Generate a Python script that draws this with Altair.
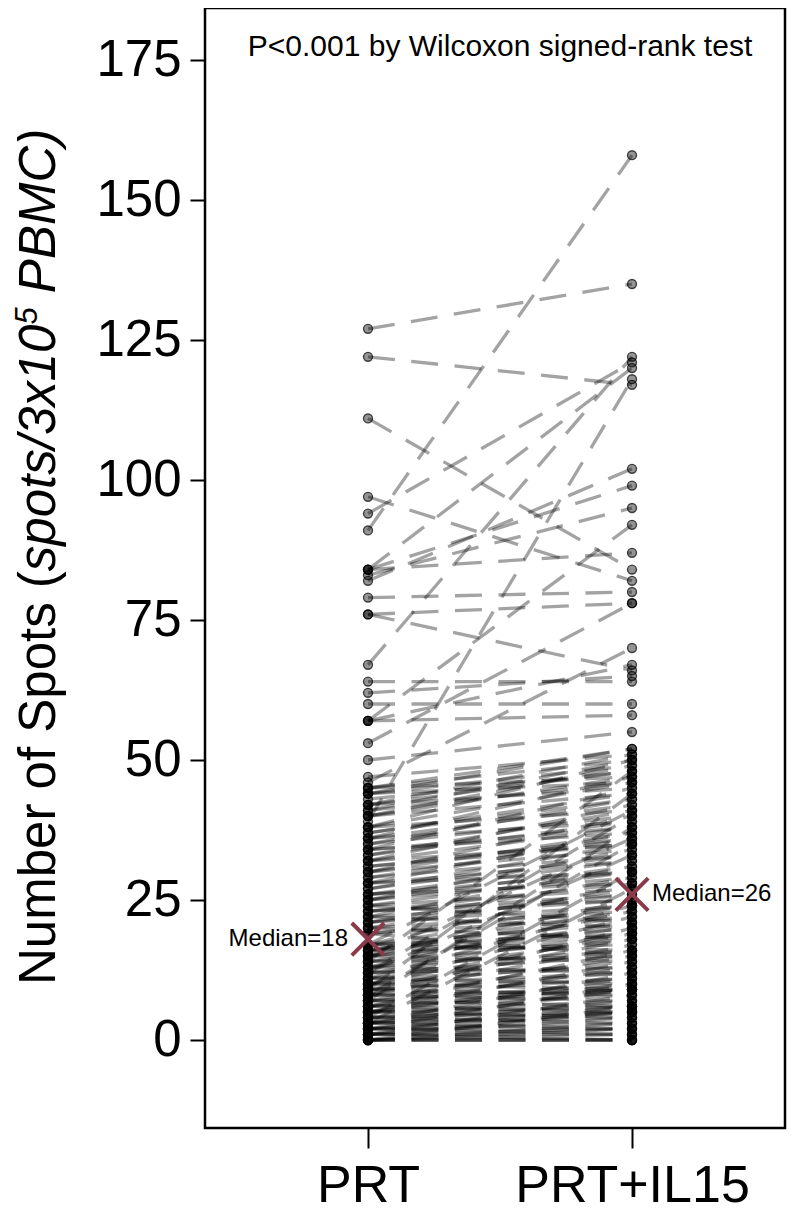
import altair as alt
import pandas as pd

# ---------------- data ----------------
groups = ["PRT", "PRT+IL15"]
group_pos = [1, 2]

prt = [
    0, 0, 0, 0, 0,
    1, 1, 1, 1,
    2, 2, 2, 2,
    3, 3, 3, 3,
    4, 4, 4, 4,
    5, 5, 5, 5,
    6, 6, 6, 6,
    7, 7, 7, 7,
    8, 8, 8, 8,
    9, 9, 9, 9,
    10, 10, 10, 10,
    11, 11, 11,
    12, 12, 12,
    13, 13, 13,
    14, 14, 14,
    15, 15, 15, 15,
    16, 16, 16,
    17, 17, 17, 17, 17, 17,
    19, 19, 20, 20, 21, 21, 22, 22, 23, 23, 24, 24, 25, 25, 26, 26,
    27, 28, 28, 29, 30, 30, 31, 32, 32, 33, 34, 34, 35, 36, 36, 37,
    38, 38, 39, 40, 40, 41, 42, 42, 43, 44, 44, 45, 45, 46, 47,
    127, 122, 111, 97, 94, 91, 84, 84, 84, 83, 82, 79, 76, 76,
    67, 64, 62, 60, 57, 57, 57, 53, 50,
    0, 0, 1, 1, 2, 2, 3, 3, 4, 5, 5, 6, 7, 8, 9, 10, 11, 12, 13, 14,
    15, 16, 3, 8, 12,
    19, 20, 22, 24, 21, 23, 25, 26, 27, 28, 29, 30, 31, 32, 33, 34,
    35, 36, 37, 38, 40, 41, 42, 44, 45,
]

il15 = [
    0, 0, 1, 3, 6,
    0, 2, 4, 8,
    1, 3, 5, 10,
    2, 5, 7, 12,
    3, 6, 9, 30,
    4, 7, 11, 14,
    5, 9, 13, 16,
    6, 10, 15, 38,
    7, 11, 17, 20,
    8, 12, 18, 44,
    9, 14, 19, 22,
    10, 16, 24,
    13, 18, 33,
    12, 19, 23,
    15, 21, 48,
    14, 20, 25, 36,
    17, 22, 23,
    16, 19, 21, 24, 28, 41,
    15, 22, 18, 27, 24, 26, 20, 31, 25, 26, 21, 30, 29, 34, 28, 32,
    35, 30, 37, 33, 34, 40, 36, 35, 42, 39, 38, 45, 40, 39, 47, 43,
    41, 50, 118, 44, 49, 46, 45, 51, 48, 46, 52, 50, 47, 70, 51,
    135, 117, 84, 82, 121, 158, 87, 120, 99, 95, 102, 80, 78, 66,
    122, 64, 65, 60, 92, 58, 67, 78, 55,
    0, 2, 1, 5, 2, 6, 4, 9, 5, 6, 10, 8, 9, 9, 11, 12, 13, 15, 16, 18,
    19, 20, 27, 35, 40,
    24, 23, 25, 27, 29, 28, 31, 30, 33, 32, 36, 37, 35, 38, 41, 37,
    43, 42, 44, 46, 47, 50, 48, 49, 52,
]

medians = [18, 26]
median_labels = ["Median=18", "Median=26"]
y_ticks = [0, 25, 50, 75, 100, 125, 150, 175]
annotation = "P<0.001 by Wilcoxon signed-rank test"
title_normal = "Number of Spots ("
title_italic1 = "spots/3x10"
title_sup = "5"
title_italic2 = "PBMC)"

# ---------------- tables ----------------
rows = []
for i, (a, b) in enumerate(zip(prt, il15)):
    rows.append({"id": i, "pos": group_pos[0], "value": a})
    rows.append({"id": i, "pos": group_pos[1], "value": b})
df = pd.DataFrame(rows)

med_df = pd.DataFrame({"pos": group_pos, "value": medians, "label": median_labels})

FONT = "Liberation Sans"
W, H = 580, 1120
xs = alt.Scale(domain=[0.3826, 2.5795], nice=False, zero=False)
ys = alt.Scale(domain=[-15.714, 184.286], nice=False, zero=False)

label_expr = f"datum.value == {group_pos[0]} ? '{groups[0]}' : '{groups[1]}'"

x_enc = alt.X("pos:Q", scale=xs, title=None,
              axis=alt.Axis(values=group_pos, labelExpr=label_expr, grid=False,
                            domain=False, tickSize=20, tickWidth=2, tickColor="black",
                            labelFontSize=52, labelPadding=12, labelColor="black",
                            labelFont=FONT, labelFlush=False, labelLimit=0,
                            labelOverlap=False))
y_enc = alt.Y("value:Q", scale=ys, title=None,
              axis=alt.Axis(values=y_ticks, grid=False, domain=False, tickSize=15,
                            tickWidth=2, tickColor="black", labelFontSize=51,
                            labelPadding=9, labelColor="black", labelFont=FONT,
                            labelLimit=0))

lines = alt.Chart(df).mark_line(
    strokeDash=[27, 16.5], strokeWidth=3.3, color="black", opacity=0.36
).encode(x=x_enc, y=y_enc, detail="id:N")

points = alt.Chart(df).mark_circle(
    size=80, color="black", stroke="black", strokeWidth=1.4,
    fillOpacity=0.42, strokeOpacity=0.7
).encode(x=alt.X("pos:Q", scale=xs), y=alt.Y("value:Q", scale=ys))

med_marks = alt.Chart(med_df).mark_point(
    shape="M-1,-1L1,1M1,-1L-1,1", size=1050, strokeWidth=4, color="#8B3A4A",
    filled=False, opacity=1
).encode(x=alt.X("pos:Q", scale=xs), y=alt.Y("value:Q", scale=ys))

med_text_left = alt.Chart(med_df.iloc[[0]]).mark_text(
    align="right", baseline="middle", dx=-20, fontSize=24, font=FONT, color="black"
).encode(x=alt.X("pos:Q", scale=xs), y=alt.Y("value:Q", scale=ys), text="label:N")

med_text_right = alt.Chart(med_df.iloc[[1]]).mark_text(
    align="left", baseline="middle", dx=20, fontSize=24, font=FONT, color="black"
).encode(x=alt.X("pos:Q", scale=xs), y=alt.Y("value:Q", scale=ys), text="label:N")

ann = alt.Chart(pd.DataFrame({"t": [annotation]})).mark_text(
    align="center", baseline="alphabetic", fontSize=30, font=FONT, color="black"
).encode(x=alt.value(295), y=alt.value(48), text="t:N")

# rotated y-axis title in pieces (normal / italic / superscript)
TF = 51
tx = -150
y1 = 977
y2 = y1 - 8114 * TF / 1000
y3 = y2 - 4836 * TF / 1000
y4 = y3 - 556 * 31 / 1000 - 278 * TF / 1000


def title_piece(text, y, x, size, style):
    return alt.Chart(pd.DataFrame({"t": [text]})).mark_text(
        angle=270, align="left", baseline="alphabetic", fontSize=size,
        font=FONT, fontStyle=style, color="black"
    ).encode(x=alt.value(x), y=alt.value(y), text="t:N")


t1 = title_piece(title_normal, y1, tx, TF, "normal")
t2 = title_piece(title_italic1, y2, tx, TF, "italic")
t3 = title_piece(title_sup, y3, tx - 18, 31, "italic")
t4 = title_piece(title_italic2, y4, tx, TF, "italic")

chart = alt.layer(
    lines, points, med_marks, med_text_left, med_text_right, ann, t1, t2, t3, t4
).properties(
    width=W, height=H,
    autosize=alt.AutoSizeParams(type="none"),
    padding={"left": 197, "top": 0, "right": 5, "bottom": 100},
).configure(
    font=FONT
).configure_view(
    stroke="black", strokeWidth=2.5
)

chart.save("out.html", embed_options={"renderer": "svg", "actions": False})
